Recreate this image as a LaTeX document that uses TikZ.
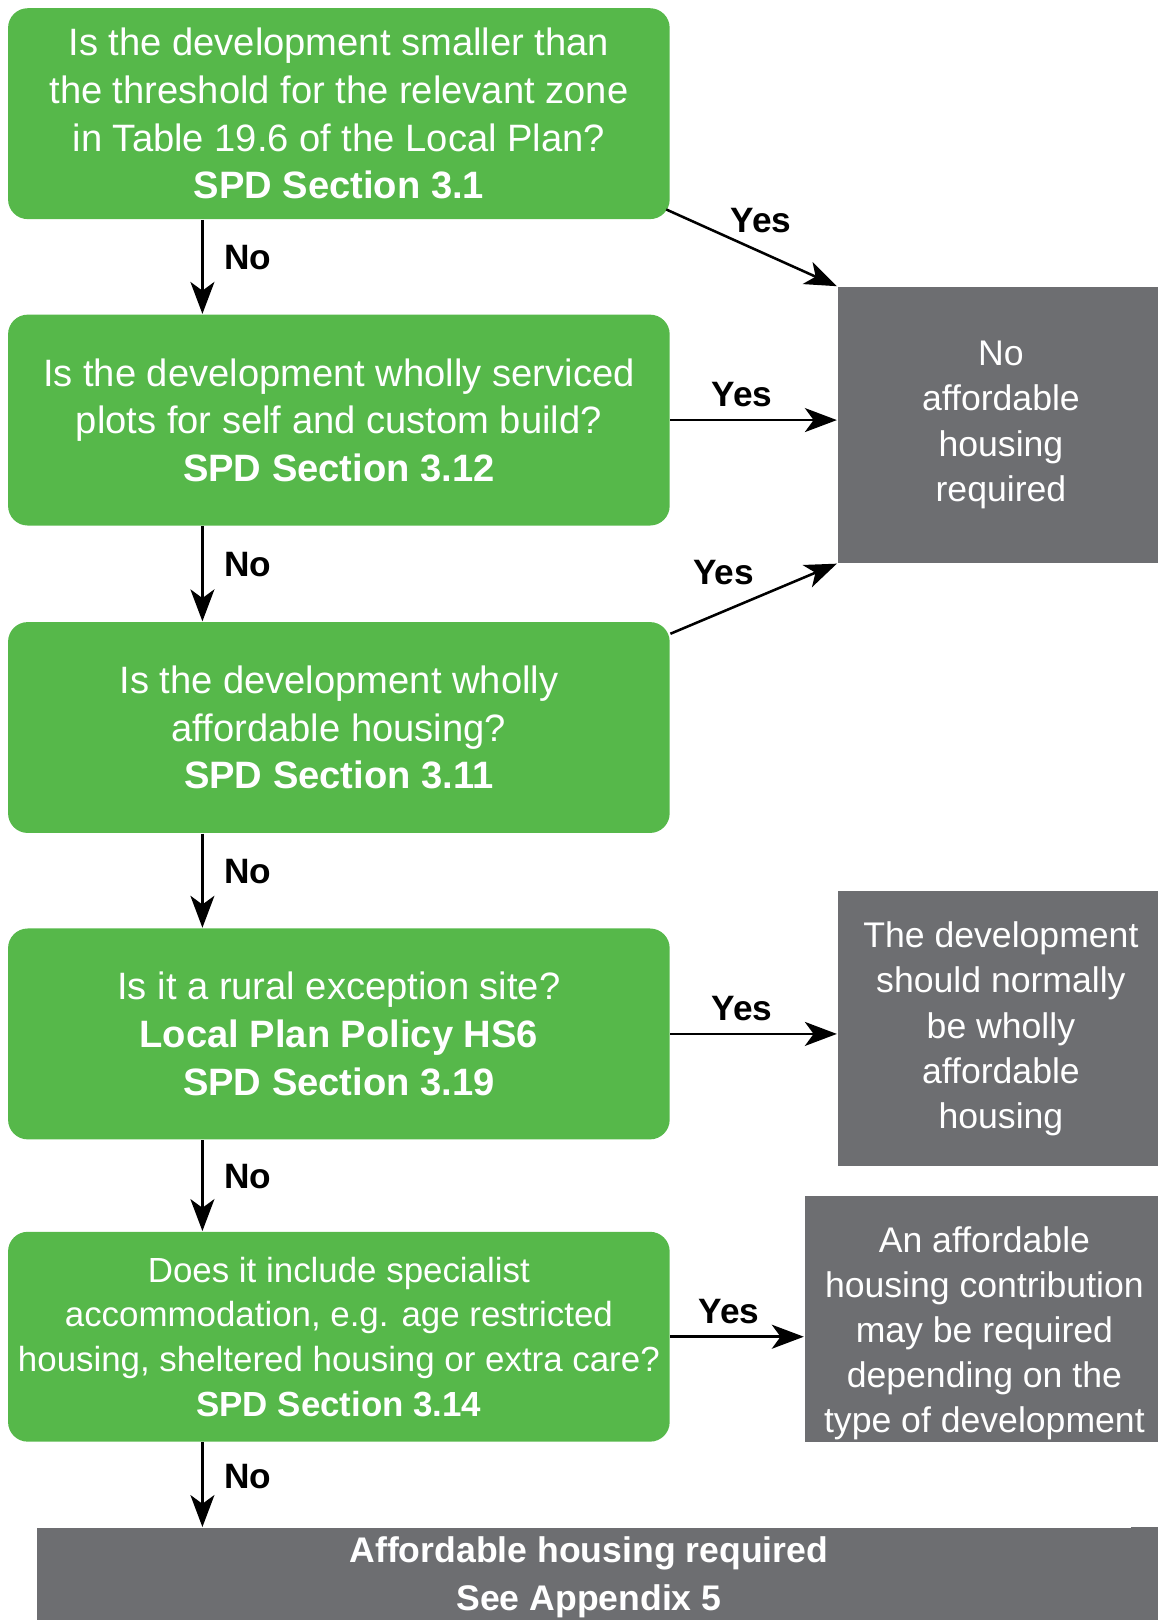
\documentclass[tikz,border=0pt]{standalone}
\usepackage{fontspec}
\setmainfont{Liberation Sans}
\usepackage{tikz}
\usetikzlibrary{positioning, arrows.meta, calc}
\usepackage{xcolor}
\definecolor{qgreen}{RGB}{86,184,74}
\definecolor{rgray}{RGB}{109,110,113}
\tikzset{
  question/.style={rectangle, rounded corners=0.19cm, fill=qgreen, text=white,
    align=center, minimum width=6.4cm, minimum height=2.04cm, inner sep=0pt,
    font=\fontsize{10.5}{13.1}\selectfont},
  result/.style={rectangle, fill=rgray, text=white, align=center, inner sep=0pt,
    anchor=north west, font=\fontsize{9.8}{12.4}\selectfont},
  rtext/.style={text=white, align=center, inner sep=0pt,
    font=\fontsize{9.8}{12.4}\selectfont},
  arr/.style={-{Stealth[length=8.8pt, width=6.6pt, inset=2.4pt]}, line width=0.7pt},
  lbl/.style={font=\bfseries\fontsize{9.7}{12}\selectfont}
}

\begin{document}
\begin{tikzpicture}[x=0.01cm, y=-0.01cm]
  \useasboundingbox (0,0) rectangle (1120,1568);
  % questions
  \node[question] at (328,110)
    (Q1) {Is the development smaller than\\the threshold for the relevant zone\\in Table 19.6 of the Local Plan?\\\textbf{SPD Section 3.1}};
  \node[question, below=0.91cm of Q1]
    (Q2) {Is the development wholly serviced\\plots for self and custom build?\\\textbf{SPD Section 3.12}};
  \node[question, below=0.92cm of Q2]
    (Q3) {Is the development wholly\\affordable housing?\\\textbf{SPD Section 3.11}};
  \node[question, below=0.91cm of Q3]
    (Q4) {Is it a rural exception site?\\\textbf{Local Plan Policy HS6}\\\textbf{SPD Section 3.19}};
  \node[question, below=0.88cm of Q4, minimum height=2.03cm, font=\fontsize{9.6}{12.3}\selectfont]
    (Q5) {Does it include specialist\\accommodation, e.g. age restricted\\housing, sheltered housing or extra care?\\\textbf{SPD Section 3.14}};
  % outcomes
  \node[result, minimum width=3.16cm, minimum height=2.67cm] at (810,277)
    (R1) {No\\affordable\\housing\\required};
  \node[result, minimum width=3.16cm, minimum height=2.66cm] at (810,862)
    (R2) {The development\\should normally\\be wholly\\affordable\\housing};
  \node[result, minimum width=3.48cm, minimum height=2.38cm,
    label={[rtext, yshift=-0.14cm]center:An affordable\\housing contribution\\may be required\\depending on the\\type of development}] at (778,1157)
    (R3) {};
  \node[result, minimum width=10.68cm, minimum height=0.96cm, font=\bfseries\fontsize{9.8}{13}\selectfont] at (35,1478)
    (F) {Affordable housing required\\See Appendix 5};
  \fill[rgray] ([xshift=-0.1cm]F.north east) rectangle ([xshift=0.3cm]F.south east);
  % No arrows
  \coordinate (D1) at ([xshift=-1.32cm]Q1.south);
  \coordinate (D2) at ([xshift=-1.32cm]Q2.south);
  \coordinate (D3) at ([xshift=-1.32cm]Q3.south);
  \coordinate (D4) at ([xshift=-1.32cm]Q4.south);
  \coordinate (D5) at ([xshift=-1.32cm]Q5.south);
  \draw[arr] (D1) -- (D1 |- Q2.north) node[lbl, pos=0.4, right=0.08cm] {No};
  \draw[arr] (D2) -- (D2 |- Q3.north) node[lbl, pos=0.4, right=0.08cm] {No};
  \draw[arr] (D3) -- (D3 |- Q4.north) node[lbl, pos=0.4, right=0.08cm] {No};
  \draw[arr] (D4) -- (D4 |- Q5.north) node[lbl, pos=0.4, right=0.08cm] {No};
  \draw[arr] (D5) -- (D5 |- F.north) node[lbl, pos=0.4, right=0.08cm] {No};
  % Yes arrows
  \draw[arr] ([shift={(-0.04cm,0.1cm)}]Q1.south east) -- (R1.north west)
    node[lbl, midway, above=0.02cm, xshift=0.09cm] {Yes};
  \draw[arr] (Q2.east) -- (Q2.east -| R1.west)
    node[lbl, pos=0.43, above] {Yes};
  \draw[arr] ([yshift=-0.12cm]Q3.north east) -- (R1.south west)
    node[lbl, midway, above, xshift=-0.29cm] {Yes};
  \draw[arr] (Q4.east) -- (Q4.east -| R2.west)
    node[lbl, pos=0.43, above] {Yes};
  \draw[arr] (Q5.east) -- (Q5.east -| R3.west)
    node[lbl, pos=0.44, above] {Yes};
\end{tikzpicture}
\end{document}
